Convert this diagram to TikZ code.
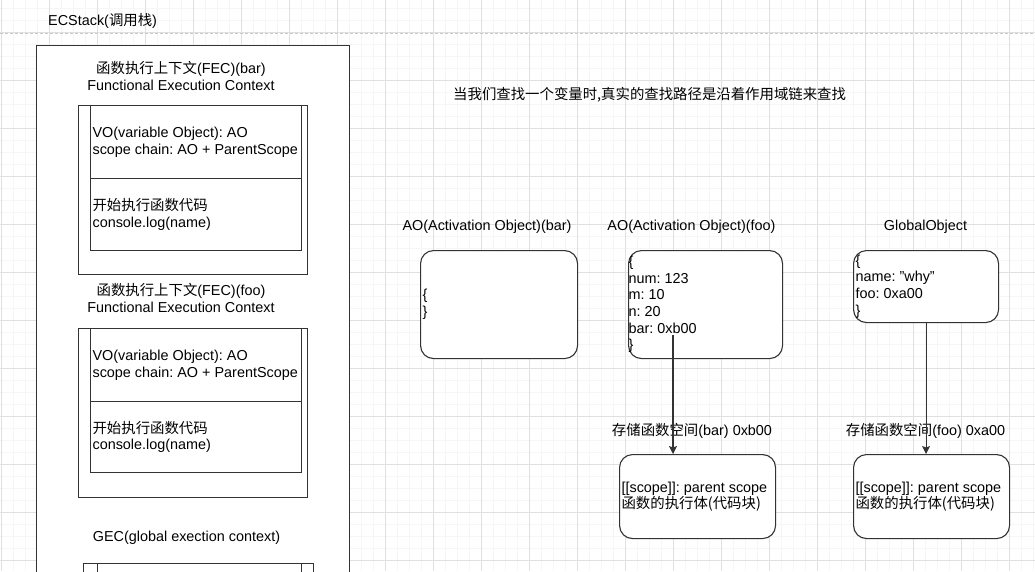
\documentclass[tikz,border=0pt]{standalone}
\usepackage{fontspec}
\setmainfont{Liberation Sans}
\newfontfamily\cjk{Noto Sans CJK SC}
\usetikzlibrary{arrows.meta}
\definecolor{linec}{HTML}{333333}
\definecolor{gridmaj}{HTML}{E0E0E0}
\definecolor{gridmin}{HTML}{F6F6F6}
\definecolor{dashc}{HTML}{C8C8C8}
\frenchspacing
\hyphenpenalty=10000
\exhyphenpenalty=10000
\begin{document}
\begin{tikzpicture}[x=1pt,y=-1pt,
  every node/.style={font=\fontsize{14.4}{16.6}\selectfont, inner sep=0pt, text=black},
  ln/.style={draw=linec, line width=1.1pt},
  sbox/.style={ln, fill=white, anchor=north west},
  rbox/.style={ln, fill=white, anchor=north west, rounded corners=13pt},
  tbox/.style={align=flush left, inner xsep=2pt},
  lbl/.style={align=center},
  arr/.style={draw=linec, line width=1.1pt, -{Stealth[length=8pt,width=8pt,inset=1.5pt]}}
]
\useasboundingbox (0,0) rectangle (1035,571);
\clip (0,0) rectangle (1035,571);
\fill[white] (0,0) rectangle (1035,571);
% grid
\foreach \x in {1,13,...,1035} \draw[gridmin, line width=0.5pt] (\x,0) -- (\x,571);
\foreach \y in {8,20,...,571} \draw[gridmin, line width=0.5pt] (0,\y) -- (1035,\y);
\foreach \x in {1,49,...,1035} \draw[gridmaj, line width=0.8pt] (\x,0) -- (\x,571);
\foreach \y in {32,80,...,571} \draw[gridmaj, line width=0.8pt] (0,\y) -- (1035,\y);
\draw[dashc, line width=0.8pt, dash pattern=on 3pt off 2pt] (0,33) -- (1035,33);

% ECStack
\node[anchor=west] (stacklbl) at (48,21) {ECStack({\cjk 调用栈})};
\node[sbox, minimum width=313pt, minimum height=570pt] (stack) at (36,45) {};

% FEC bar
\node[lbl] (fecbart) at (181,76) {{\cjk 函数执行上下文}(FEC)(bar)\\Functional Execution Context};
\node[sbox, minimum width=229pt, minimum height=169pt] (fecbar) at (78,105) {};
\node[sbox, tbox, text width=207pt, minimum height=73pt] (fecbarvo) at (90,105)
  {VO(variable Object): AO\\scope chain: AO + ParentScope};
\node[sbox, tbox, text width=207pt, minimum height=72pt] (fecbarcode) at (90,178)
  {{\cjk 开始执行函数代码}\\console.log(name)};

% FEC foo
\node[lbl] (fecfoot) at (181,298) {{\cjk 函数执行上下文}(FEC)(foo)\\Functional Execution Context};
\node[sbox, minimum width=229pt, minimum height=169pt] (fecfoo) at (78,328) {};
\node[sbox, tbox, text width=207pt, minimum height=73pt] (fecfoovo) at (90,328)
  {VO(variable Object): AO\\scope chain: AO + ParentScope};
\node[sbox, tbox, text width=207pt, minimum height=71pt] (fecfoocode) at (90,401)
  {{\cjk 开始执行函数代码}\\console.log(name)};

% GEC
\node[lbl] (gect) at (186.5,538) {GEC(global exection context)};
\node[sbox, minimum width=230pt, minimum height=60pt] (gec) at (83,563) {};
\node[sbox, minimum width=204pt, minimum height=60pt] (gecin) at (97,563) {};

% heading
\node[anchor=west] (head) at (453,95) {\cjk 当我们查找一个变量时,真实的查找路径是沿着作用域链来查找};

% AO bar
\node[lbl] (aobart) at (487,227) {AO(Activation Object)(bar)};
\node[rbox, tbox, text width=153pt, minimum height=108pt] (aobar) at (420,250) {\{\\\}};

% AO foo
\node[lbl] (aofoot) at (691.5,227) {AO(Activation Object)(foo)};
\node[rbox, tbox, inner xsep=0pt, text width=154pt, minimum height=108pt] (aofoo) at (628,250)
  {\{\\num: 123\\m: 10\\n: 20\\bar: 0xb00\\\}};

% Global
\node[lbl] (globt) at (925.5,227) {GlobalObject};
\node[rbox, tbox, text width=141pt, minimum height=72pt] (glob) at (853,250)
  {\{\\name: \symbol{34}why\symbol{34}\\foo: 0xa00\\\}};

% storage bar
\node[lbl] (barstoret) at (692,431) {{\cjk 存储函数空间}(bar) 0xb00};
\node[rbox, tbox, text width=152pt, minimum height=84pt] (barstore) at (619,454)
  {[[scope]]: parent scope\\{\cjk 函数的执行体(代码块)}};

% storage foo
\node[lbl] (foostoret) at (925.5,431) {{\cjk 存储函数空间}(foo) 0xa00};
\node[rbox, tbox, text width=152pt, minimum height=84pt] (foostore) at (853,454)
  {[[scope]]: parent scope\\{\cjk 函数的执行体(代码块)}};

% arrows
\coordinate (barptr) at (673,335);
\draw[arr] (barptr) -- (barptr |- barstore.north);
\draw[arr] (glob.south) -- (glob.south |- foostore.north);
\end{tikzpicture}
\end{document}
